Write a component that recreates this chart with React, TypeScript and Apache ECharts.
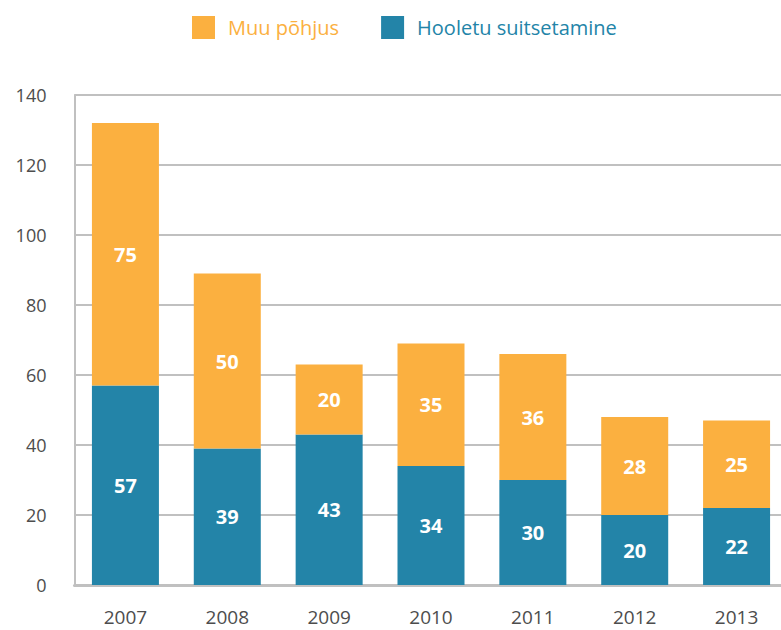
import React, { useEffect, useRef } from "react";
import * as echarts from "echarts";

const categories = ["2007", "2008", "2009", "2010", "2011", "2012", "2013"];
const hooletu = [57, 39, 43, 34, 30, 20, 22];
const muu = [75, 50, 20, 35, 36, 28, 25];
const yTicks = { min: 0, max: 140, interval: 20 };

const TEAL = "#2384a8";
const ORANGE = "#fbb040";
const FONT = "'Open Sans', 'DejaVu Sans', sans-serif";

export default function App() {
  const ref = useRef<HTMLDivElement>(null);
  useEffect(() => {
    const chart = echarts.init(ref.current!, null, { renderer: "svg" });
    const label = {
      show: true,
      position: "inside",
      color: "#ffffff",
      fontWeight: "bold",
      fontSize: 20,
      fontFamily: FONT,
    };
    chart.setOption({
      animation: false,
      legend: {
        data: [
          { name: "Muu põhjus", textStyle: { color: ORANGE } },
          { name: "Hooletu suitsetamine", textStyle: { color: TEAL } },
        ],
        top: 11,
        left: 187,
        itemWidth: 23,
        itemHeight: 23,
        itemGap: 42,
        icon: "rect",
        textStyle: { fontSize: 20, fontFamily: FONT, padding: [0, 0, 0, 8] },
      },
      grid: { left: 74.5, right: 12.5, top: 95, bottom: 45, containLabel: false },
      xAxis: {
        type: "category",
        data: categories,
        axisLine: { show: true, lineStyle: { color: "#c0c0c0", width: 3 } },
        axisTick: { show: false },
        axisLabel: { color: "#4d4d4d", fontSize: 19, lineHeight: 19, fontFamily: FONT, margin: 22 },
      },
      yAxis: {
        type: "value",
        min: yTicks.min,
        max: yTicks.max,
        interval: yTicks.interval,
        axisLine: { show: true, lineStyle: { color: "#c0c0c0", width: 2 } },
        axisTick: { show: false },
        axisLabel: { color: "#4d4d4d", fontSize: 18, fontFamily: FONT, margin: 28 },
        splitLine: { show: true, lineStyle: { color: "#c0c0c0", width: 2 } },
      },
      series: [
        {
          name: "Hooletu suitsetamine",
          type: "bar",
          stack: "total",
          data: hooletu,
          barWidth: 67,
          itemStyle: { color: TEAL },
          label,
        },
        {
          name: "Muu põhjus",
          type: "bar",
          stack: "total",
          data: muu,
          barWidth: 67,
          itemStyle: { color: ORANGE },
          label,
        },
      ],
    });
    return () => chart.dispose();
  }, []);
  return (
    <div style={{ width: 781, height: 630, position: "absolute", left: 0, top: 0, overflow: "hidden" }}>
      <div ref={ref} style={{ width: 800, height: 630 }} />
    </div>
  );
}
